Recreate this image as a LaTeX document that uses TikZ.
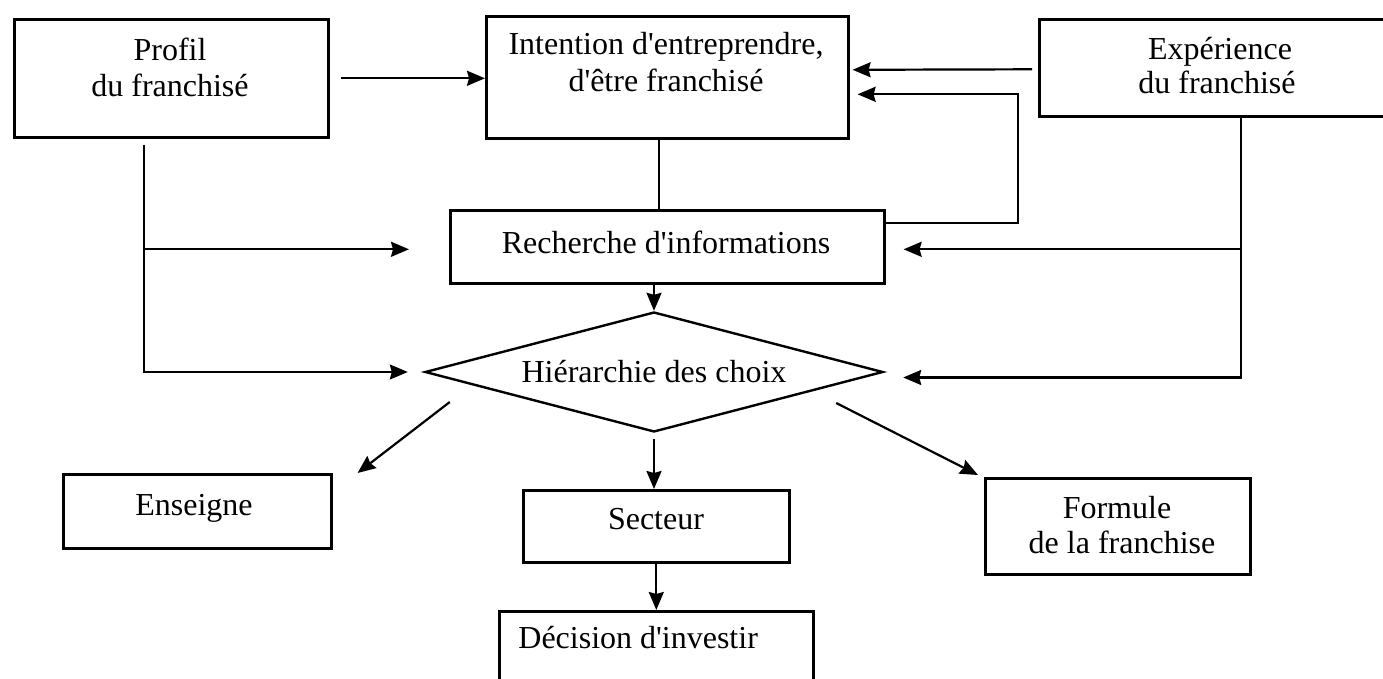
\documentclass[tikz,border=0pt]{standalone}
\usepackage{fontspec}
\setmainfont{Liberation Serif}[Ligatures=TeXOff]
\usetikzlibrary{shapes.geometric,arrows.meta,calc}
\newcommand\figfont{\fontsize{16}{19}\selectfont}
\begin{document}
\begin{tikzpicture}[x=0.5pt,y=-0.5pt,
  box/.style={draw,line width=1.3pt,inner sep=0pt,anchor=north west},
  txt/.style={inner sep=0pt,anchor=base,font=\figfont},
  conn/.style={line width=1.1pt},
  arr/.style={conn,-{Stealth[length=9pt,width=7.5pt,inset=1pt]}}]
\useasboundingbox (0,0) rectangle (1383,679);
\clip (0,0) rectangle (1383,679);
\fill[white] (0,0) rectangle (1383,679);

% boxes
\node[box,minimum width=157pt,minimum height=59pt] (profil) at (13,18) {};
\node[box,minimum width=181pt,minimum height=61pt] (intention) at (485,15) {};
\node[box,minimum width=183pt,minimum height=48.5pt] (exp) at (1038,18) {};
\node[box,minimum width=217pt,minimum height=36.5pt] (recherche) at (449,209) {};
\node[draw,diamond,line width=1.2pt,inner sep=0pt,aspect=3.8,
      minimum width=229pt,minimum height=60pt,font=\figfont] (choix) at (654,372) {Hiérarchie des choix};
\node[box,minimum width=134pt,minimum height=37pt] (enseigne) at (62,473) {};
\node[box,minimum width=133pt,minimum height=36pt] (secteur) at (522,489) {};
\node[box,minimum width=132.5pt,minimum height=48pt] (formule) at (984,477) {};
\node[box,minimum width=157pt,minimum height=50pt] (decision) at (498,610) {};

% labels
\node[txt] (profilA) at (170,61) {Profil};
\node[txt] (profilB) at (170,97) {du franchisé};
\node[txt] (intentionA) at (666,55) {Intention d'entreprendre,};
\node[txt] (intentionB) at (666,92) {d'être franchisé};
\node[txt] (expA) at (1220,60) {Expérience};
\node[txt] (expB) at (1217,94) {du franchisé};
\node[txt] (rechercheT) at (666,254) {Recherche d'informations};
\node[txt] (enseigneT) at (194,516) {Enseigne};
\node[txt] (secteurT) at (656,530) {Secteur};
\node[txt] (formuleA) at (1117,518) {Formule};
\node[txt] (formuleB) at (1122,553) {de la franchise};
\node[txt,anchor=base west] (decisionT) at (518,648) {Décision d'investir};

% top row
\draw[arr] ($(profil.east)+(11,0)$) -- (intention.west |- profil.east);
\draw[conn] ($(intention.south)+(-8,0)$) -- ($(recherche.north)+(-8,0)$);
\draw[arr] ($(exp.west)+(-6,1.5)$) -- ($(intention.east)+(3,-7.5)$);
\draw[arr] ($(recherche.north east)+(0,14)$) -- ++(132,0) |- ($(intention.east)+(8,17)$);

% right trunk from Expérience
\coordinate (trunkR) at ($(exp.south)+(19,0)$);
\coordinate (tipR) at ($(recherche.east)+(18,2.5)$);
\draw[arr] (trunkR) |- ($(choix.east)+(19,5.5)$);
\draw[arr] (trunkR |- tipR) -- (tipR);

% left trunk from Profil
\coordinate (trunkL) at ($(profil.south)+(-27,6)$);
\coordinate (tipL) at ($(recherche.west)+(-40,2.5)$);
\draw[arr] (trunkL) |- ($(choix.west)+(-16,0)$);
\draw[arr] (trunkL |- tipL) -- (tipL);

% central flow
\draw[arr] (choix.north |- recherche.south) -- (choix.north);
\draw[arr] ($(choix.south)+(0,6)$) -- (choix.south |- secteur.north);
\draw[arr] (secteur.south) -- (secteur.south |- decision.north);
\draw[arr] ($(choix.west)+(26,30)$) -- ($(enseigne.north east)+(25,0)$);
\draw[arr] ($(choix.east)+(-48,31)$) -- ($(formule.north west)+(-6,-2)$);
\end{tikzpicture}
\end{document}
